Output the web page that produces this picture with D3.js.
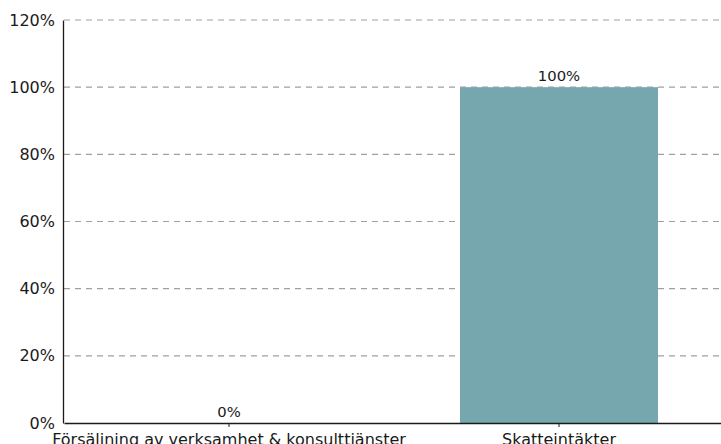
<!DOCTYPE html>
<html lang="sv">
<head>
    <meta charset="UTF-8">
    <title>Intäkter</title>
    <script src="https://d3js.org/d3.v7.min.js"></script>
    <style>
        body { margin: 0; background: #fff; }
        text { font-family: "DejaVu Sans", sans-serif; fill: #1a1a1a; }
    </style>
</head>
<body>
    <div id="chart"></div>

    <script>
        var categories = ["Försäljning av verksamhet & konsulttjänster", "Skatteintäkter"];
        var values = [0, 100];
        var yTicks = [0, 20, 40, 60, 80, 100, 120];

        var w = 721;
        var h = 444;
        var margin = { top: 20, right: -3, bottom: 21, left: 64 };

        var svg = d3.select("#chart").append("svg")
            .attr("width", w)
            .attr("height", h);

        var xScale = d3.scaleBand()
            .domain(categories)
            .range([margin.left, w - margin.right])
            .paddingInner(0.4)
            .paddingOuter(0.2);

        var yScale = d3.scaleLinear()
            .domain([0, 120])
            .range([h - margin.bottom, margin.top]);

        // grid lines behind bars
        svg.append("g")
            .selectAll("line")
            .data(yTicks.slice(1))
            .enter()
            .append("line")
            .attr("x1", margin.left)
            .attr("x2", w)
            .attr("y1", function(d) { return yScale(d); })
            .attr("y2", function(d) { return yScale(d); })
            .attr("stroke", "#a0a0a0")
            .attr("stroke-width", 1.2)
            .attr("stroke-dasharray", "6,5");

        svg.append("g")
            .selectAll("rect")
            .data(values)
            .enter()
            .append("rect")
            .attr("x", function(d, i) { return xScale(categories[i]); })
            .attr("y", function(d) { return yScale(d); })
            .attr("width", xScale.bandwidth())
            .attr("height", function(d) { return yScale(0) - yScale(d); })
            .attr("fill", "#77a7ae");

        svg.append("g")
            .selectAll("text")
            .data(values)
            .enter()
            .append("text")
            .attr("x", function(d, i) { return xScale(categories[i]) + xScale.bandwidth() / 2; })
            .attr("y", function(d) { return yScale(d) - 6; })
            .attr("text-anchor", "middle")
            .style("font-size", "14.8px")
            .text(function(d) { return d + "%"; });

        var yAxis = d3.axisLeft(yScale)
            .tickValues(yTicks)
            .tickSize(0)
            .tickPadding(8)
            .tickFormat(function(d) { return d + "%"; });

        var gy = svg.append("g")
            .attr("transform", "translate(" + (margin.left - 1) + ",0)")
            .call(yAxis);
        gy.select(".domain").attr("stroke", "#1a1a1a").attr("stroke-width", 1.3);
        gy.selectAll("text").style("font-size", "16px").attr("fill", "#1a1a1a");

        var xAxis = d3.axisBottom(xScale)
            .tickSizeInner(4)
            .tickSizeOuter(0)
            .tickPadding(7);

        var gx = svg.append("g")
            .attr("transform", "translate(0," + (h - margin.bottom) + ")")
            .call(xAxis);
        gx.select(".domain").attr("stroke", "#1a1a1a").attr("stroke-width", 1.3);
        gx.selectAll(".tick line").attr("stroke", "#1a1a1a");
        gx.selectAll("text").style("font-size", "16px").attr("fill", "#1a1a1a");
    </script>
</body>
</html>
